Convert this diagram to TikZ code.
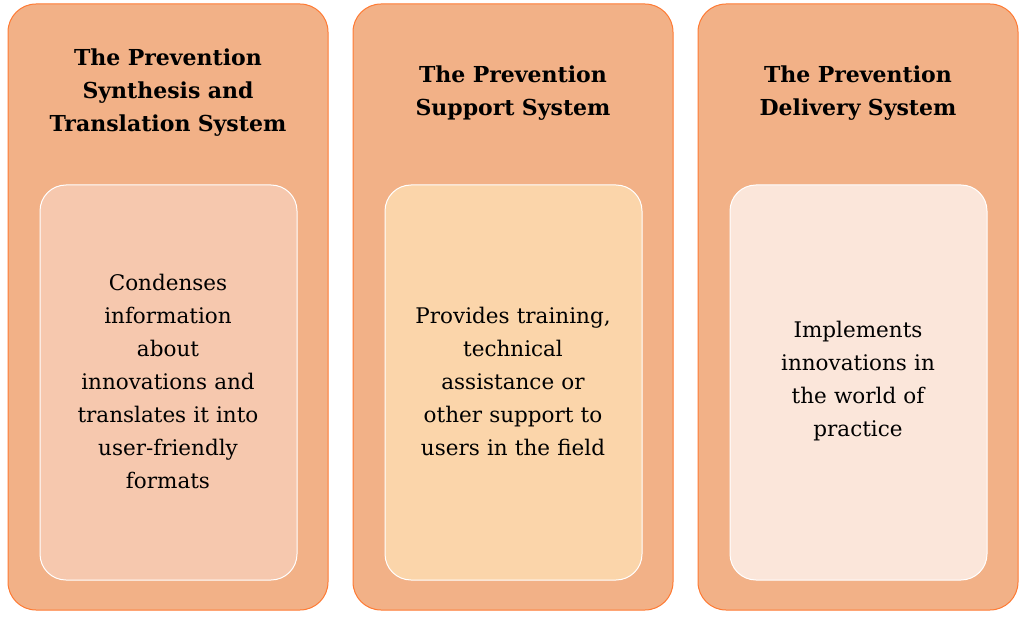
\documentclass[tikz,border=0pt]{standalone}
\usepackage{fontspec}
\setmainfont{DejaVu Serif}
\begin{document}
\begin{tikzpicture}[x=1pt,y=-1pt,
 outer/.style={draw=orange!70!red!80, fill=outerc, rounded corners=28pt, line width=1pt},
 inner/.style={draw=white, fill=#1, rounded corners=26pt, line width=1pt},
 ttl/.style={font=\fontsize{22}{33}\selectfont\bfseries, align=center, text width=300pt},
 body/.style={font=\fontsize{21.5}{33}\selectfont, align=center, text width=240pt}]
\definecolor{outerc}{HTML}{F2B187}
\definecolor{in1}{HTML}{F6C8AE}
\definecolor{in2}{HTML}{FBD5AA}
\definecolor{in3}{HTML}{FBE6DA}
\useasboundingbox (0,0) rectangle (1024,617);
\foreach \i/\x in {1/8,2/353,3/698}{
 \draw[outer] (\x,4) rectangle ++(320,606);
 \draw[inner=in\i] (\x+32,185) rectangle ++(257,395);
}
\node[ttl] (t1) at (168,93) {The Prevention\\Synthesis and\\Translation System};
\node[ttl] (t2) at (513,93) {The Prevention\\Support System};
\node[ttl] (t3) at (858,93) {The Prevention\\Delivery System};
\node[body] (b1) at (168,381) {Condenses\\information\\about\\innovations and\\translates it into\\user-friendly\\formats};
\node[body] (b2) at (513,381) {Provides training,\\technical\\assistance or\\other support to\\users in the field};
\node[body] (b3) at (858,381) {Implements\\innovations in\\the world of\\practice};
\end{tikzpicture}
\end{document}
